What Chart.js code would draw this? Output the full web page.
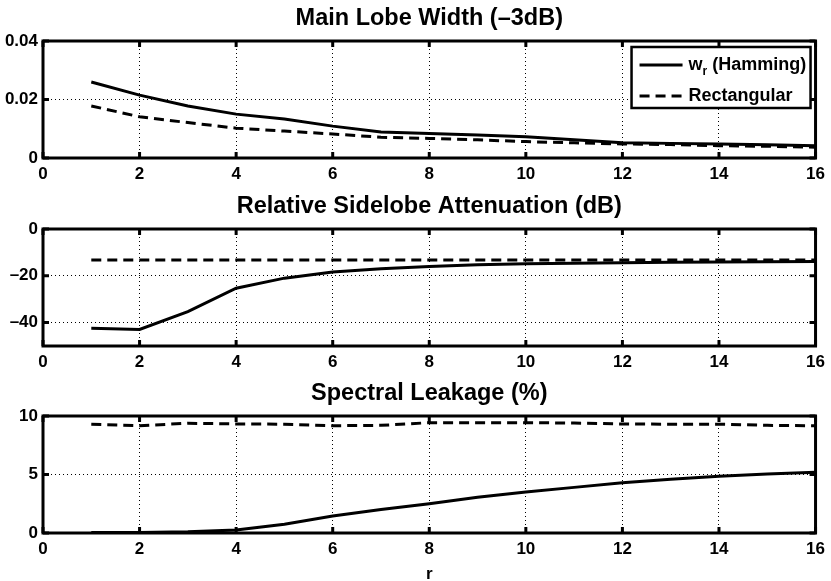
<!DOCTYPE html>
<html>
<head>
<meta charset="utf-8">
<script src="https://cdn.jsdelivr.net/npm/chart.js@4.4.1/dist/chart.umd.min.js"></script>
<style>
  html, body { margin: 0; padding: 0; background: #fff; overflow: hidden; }
  .panel { position: absolute; left: 0; }
</style>
</head>
<body>
<div class="panel" style="top:0px"><canvas id="grafikAna" width="831" height="183"></canvas></div>
<div class="panel" style="top:188px"><canvas id="grafikYan" width="831" height="183"></canvas></div>
<div class="panel" style="top:375px"><canvas id="grafikSizinti" width="831" height="210"></canvas></div>
<script>
/* VERILER */
var rDegerleri = [1, 2, 3, 4, 5, 6, 7, 8, 9, 10, 11, 12, 13, 14, 15, 16];

// Main Lobe Width (-3dB)
var anaLobHamming = [0.0260, 0.0215, 0.0178, 0.0150, 0.0133, 0.0109, 0.0089, 0.0084, 0.0079, 0.0073, 0.0062, 0.0052, 0.0050, 0.0048, 0.0045, 0.0042];
var anaLobDikdortgen = [0.0178, 0.0141, 0.0121, 0.0102, 0.0092, 0.0082, 0.0071, 0.0067, 0.0062, 0.0056, 0.0052, 0.0048, 0.0046, 0.0042, 0.0040, 0.0037];
var anaLobYTikleri = [0, 0.02, 0.04];

// Relative Sidelobe Attenuation (dB)
var yanLobHamming = [-42.4, -42.9, -35.3, -25.3, -21.0, -18.4, -17.0, -16.0, -15.3, -14.9, -14.6, -14.4, -14.2, -14.1, -14.0, -13.9];
var yanLobDikdortgen = [-13.3, -13.3, -13.3, -13.3, -13.3, -13.3, -13.3, -13.3, -13.3, -13.3, -13.3, -13.3, -13.3, -13.3, -13.3, -13.3];
var yanLobYTikleri = [-40, -20, 0];

// Spectral Leakage (%)
var sizintiHamming = [0.05, 0.05, 0.1, 0.25, 0.75, 1.45, 2.0, 2.5, 3.05, 3.5, 3.9, 4.3, 4.6, 4.85, 5.05, 5.2];
var sizintiDikdortgen = [9.29, 9.17, 9.38, 9.32, 9.3, 9.17, 9.2, 9.43, 9.43, 9.43, 9.4, 9.32, 9.3, 9.3, 9.2, 9.17];
var sizintiYTikleri = [0, 5, 10];

var basliklar = ["Main Lobe Width (\u20133dB)", "Relative Sidelobe Attenuation (dB)", "Spectral Leakage (%)"];
var xTikleri = [0, 2, 4, 6, 8, 10, 12, 14, 16];
var seriAdlari = ["w", "r", " (Hamming)", "Rectangular"];
/* VERILER */

var yaziTipi = "'Liberation Sans', Arial, Helvetica, sans-serif";
Chart.defaults.font.family = yaziTipi;
Chart.defaults.color = "#000";

function noktalar(degerler) {
  var sonuc = [];
  for (var i = 0; i < rDegerleri.length; i++) {
    sonuc.push({x: rDegerleri[i], y: degerler[i]});
  }
  return sonuc;
}

function eksiIsareti(deger) {
  return deger < 0 ? "\u2013" + Math.abs(deger) : "" + deger;
}

/* kutu ve iceri bakan tik cizgileri (matlab tarzi) */
var cerceveEklentisi = {
  id: "cerceve",
  afterLayout: function (chart) {
    // baslik cizim alanina gore ortalansin
    if (chart.titleBlock) {
      chart.titleBlock.left = chart.chartArea.left;
      chart.titleBlock.right = chart.chartArea.right;
    }
  },
  afterDraw: function (chart) {
    var ctx = chart.ctx;
    var a = chart.chartArea;
    var xs = chart.scales.x;
    var ys = chart.scales.y;
    ctx.save();
    ctx.setLineDash([]);
    ctx.strokeStyle = "#000";
    ctx.lineWidth = 3;
    ctx.beginPath();
    xs.ticks.forEach(function (t) {
      var px = xs.getPixelForValue(t.value);
      ctx.moveTo(px, a.top); ctx.lineTo(px, a.top + 6);
      ctx.moveTo(px, a.bottom); ctx.lineTo(px, a.bottom - 6);
    });
    ys.ticks.forEach(function (t) {
      var py = ys.getPixelForValue(t.value);
      ctx.moveTo(a.left, py); ctx.lineTo(a.left + 6, py);
      ctx.moveTo(a.right, py); ctx.lineTo(a.right - 6, py);
    });
    ctx.stroke();
    ctx.strokeRect(a.left, a.top, a.right - a.left, a.bottom - a.top);
    ctx.restore();
  }
};

/* ilk grafikteki lejant, alt simge icin elle ciziliyor */
var lejantEklentisi = {
  id: "lejant",
  afterDraw: function (chart) {
    var ctx = chart.ctx;
    var a = chart.chartArea;
    var sag = a.right - 5;
    var sol = sag - 179;
    var ust = a.top + 6;
    ctx.save();
    ctx.fillStyle = "#fff";
    ctx.fillRect(sol, ust, 179, 61);
    ctx.strokeStyle = "#000";
    ctx.lineWidth = 2.5;
    ctx.setLineDash([]);
    ctx.strokeRect(sol, ust, 179, 61);

    var satir1 = ust + 18;
    var satir2 = ust + 49;
    ctx.lineWidth = 3;
    ctx.beginPath();
    ctx.moveTo(sol + 8, satir1); ctx.lineTo(sol + 51, satir1);
    ctx.stroke();
    ctx.setLineDash([10, 6]);
    ctx.beginPath();
    ctx.moveTo(sol + 8, satir2); ctx.lineTo(sol + 51, satir2);
    ctx.stroke();
    ctx.setLineDash([]);

    ctx.fillStyle = "#000";
    ctx.textBaseline = "middle";
    ctx.textAlign = "left";
    ctx.font = "bold 18px " + yaziTipi;
    var x = sol + 57;
    ctx.fillText(seriAdlari[0], x, satir1);
    x += ctx.measureText(seriAdlari[0]).width;
    ctx.font = "bold 12px " + yaziTipi;
    ctx.fillText(seriAdlari[1], x, satir1 + 7);
    x += ctx.measureText(seriAdlari[1]).width;
    ctx.font = "bold 18px " + yaziTipi;
    ctx.fillText(seriAdlari[2], x, satir1);
    ctx.fillText(seriAdlari[3], sol + 57, satir2);
    ctx.restore();
  }
};

function grafikCiz(id, baslik, hamming, dikdortgen, yMin, yMax, yTikleri, xYukseklik, xBaslik, ekEklentiler) {
  var ctx = document.getElementById(id);
  return new Chart(ctx, {
    type: "line",
    data: {
      datasets: [{
        label: "Hamming",
        data: noktalar(hamming),
        borderColor: "#000",
        borderWidth: 3,
        pointRadius: 0,
        tension: 0,
        fill: false
      }, {
        label: "Rectangular",
        data: noktalar(dikdortgen),
        borderColor: "#000",
        borderWidth: 3,
        borderDash: [10, 6],
        pointRadius: 0,
        tension: 0,
        fill: false
      }]
    },
    options: {
      responsive: false,
      animation: false,
      devicePixelRatio: 1,
      layout: { padding: { left: 0, right: 15, top: 0, bottom: 0 } },
      plugins: {
        legend: { display: false },
        tooltip: { enabled: false },
        title: {
          display: true,
          text: baslik,
          color: "#000",
          font: { size: 23.5, weight: "bold" },
          padding: { top: 4.4, bottom: 8.4 }
        }
      },
      scales: {
        x: {
          type: "linear",
          min: 0,
          max: 16,
          afterBuildTicks: function (scale) {
            scale.ticks = xTikleri.map(function (v) { return {value: v}; });
          },
          afterFit: function (scale) { scale.height = xYukseklik; },
          ticks: {
            color: "#000",
            padding: 6,
            maxRotation: 0,
            font: { size: 17, weight: "bold" }
          },
          grid: { color: "#000", lineWidth: 1, drawTicks: false },
          border: { display: false, dash: [1, 3] },
          title: {
            display: !!xBaslik,
            text: xBaslik || "",
            color: "#000",
            font: { size: 17, weight: "bold" },
            padding: { top: 0, bottom: 0 }
          }
        },
        y: {
          min: yMin,
          max: yMax,
          afterBuildTicks: function (scale) {
            scale.ticks = yTikleri.map(function (v) { return {value: v}; });
          },
          afterFit: function (scale) { scale.width = 43; },
          ticks: {
            color: "#000",
            padding: 5,
            font: { size: 17, weight: "bold" },
            callback: function (v) { return eksiIsareti(Math.round(v * 1000) / 1000); }
          },
          grid: { color: "#000", lineWidth: 1, drawTicks: false },
          border: { display: false, dash: [1, 3] }
        }
      }
    },
    plugins: [cerceveEklentisi].concat(ekEklentiler || [])
  });
}

grafikCiz("grafikAna", basliklar[0], anaLobHamming, anaLobDikdortgen, 0, 0.04, anaLobYTikleri, 25, null, [lejantEklentisi]);
grafikCiz("grafikYan", basliklar[1], yanLobHamming, yanLobDikdortgen, -50, 0, yanLobYTikleri, 25, null);
grafikCiz("grafikSizinti", basliklar[2], sizintiHamming, sizintiDikdortgen, 0, 10, sizintiYTikleri, 52, "r");
</script>
</body>
</html>
